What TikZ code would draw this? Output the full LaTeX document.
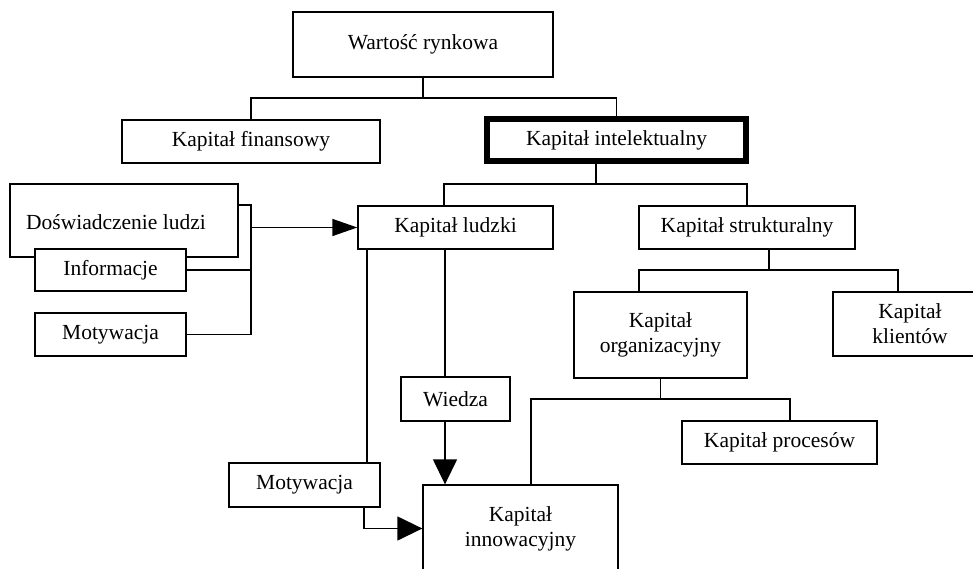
\documentclass[tikz,border=0pt]{standalone}
\usepackage{fontspec}
\setmainfont{Liberation Serif}
\usetikzlibrary{arrows.meta}
\begin{document}
\begin{tikzpicture}[x=1pt,y=-1pt,
  txt/.style={font=\fontsize{21.5}{25}\selectfont, align=center, inner sep=0pt},
  box/.style={txt, draw, line width=1.3pt, fill=white},
  conn/.style={line width=1.3pt},
  tipa/.style={-{Triangle[length=25pt,width=24pt]}},
  tipb/.style={-{Triangle[length=25pt,width=17pt]}}]
\clip (0,0) rectangle (973,569);
\fill[white] (0,0) rectangle (973,569);
% top
\node[box,minimum width=260,minimum height=65] (wr) at (423,44.5) {Wartość rynkowa};
\node[box,minimum width=258,minimum height=43] (fin) at (251,141.5) {Kapitał finansowy};
\node[box,line width=6pt,minimum width=259,minimum height=42] (int) at (616.5,140) {Kapitał intelektualny};
% second level
\node[box,minimum width=195,minimum height=43] (lud) at (455.5,227.5) {Kapitał ludzki};
\node[box,minimum width=216,minimum height=43] (str) at (747,227.5) {Kapitał strukturalny};
\node[box,minimum width=173,minimum height=86] (org) at (660.5,335) {Kapitał\\organizacyjny};
\node[box,minimum width=154,minimum height=64] (kli) at (910,324) {Kapitał\\klientów};
\node[box,minimum width=195,minimum height=43] (pro) at (779.5,442.5) {Kapitał procesów};
\node[box,minimum width=195,minimum height=87] (inn) at (520.5,528.5) {Kapitał\\innowacyjny};
\node[box,minimum width=109,minimum height=44] (wie) at (455.5,399) {Wiedza};
\node[box,minimum width=151,minimum height=44] (mot2) at (304.5,485) {Motywacja};
% left group
\node[box,minimum width=228,minimum height=73] (dos) at (124,220.5) {};
\node[txt] (dostxt) at (116,222) {Doświadczenie ludzi};
\node[box,minimum width=151,minimum height=42] (inf) at (110.5,270) {Informacje};
\node[box,minimum width=151,minimum height=43] (mot1) at (110.5,334.5) {Motywacja};
% connectors top
\draw[conn] (wr.south) -- (423,98);
\draw[conn] (fin.north) |- (int.north |- 0,98) -- (int.north);
\draw[conn] (596,0 |- int.south) -- (596,184);
\draw[conn] (444,0 |- lud.north) |- (str.north |- 0,184) -- (str.north);
% structural
\draw[conn] (769,0 |- str.south) -- (769,270);
\draw[conn] (639,0 |- org.north) |- (898,270) -- (898,0 |- kli.north);
\draw[conn] (org.south) -- (660.5,399);
\draw[conn] (531,0 |- inn.north) |- (790,399) -- (790,0 |- pro.north);
% human
\draw[conn] (367,0 |- lud.south) -- (367,0 |- mot2.north);
\draw[conn] (445,0 |- lud.south) -- (445,0 |- wie.north);
\draw[conn,tipa] (445,0 |- wie.south) -- (445,0 |- inn.north);
\draw[conn,tipa] (364,0 |- mot2.south) |- (inn.west);
% left group
\draw[conn] (dos.east |- 0,205) -| (251,0 |- mot1.east) -- (mot1.east);
\draw[conn] (inf.east) -- (251,0 |- inf.east);
\draw[conn,tipb] (251,0 |- lud.west) -- (lud.west);
\end{tikzpicture}
\end{document}
